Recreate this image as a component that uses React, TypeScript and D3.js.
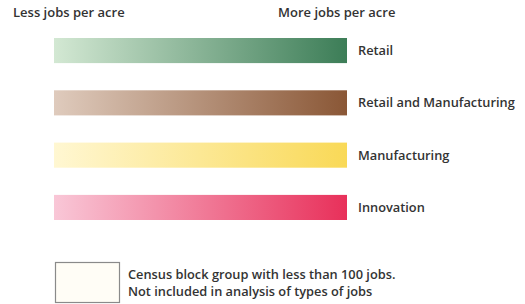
import { useEffect, useRef } from "react";
import * as d3 from "d3";

const categories = ["Retail", "Retail and Manufacturing", "Manufacturing", "Innovation"];
const lowColors = ["#d3e8d3", "#dfcbbd", "#fff7d2", "#f9c7d7"];
const highColors = ["#3c7d57", "#8a5736", "#f9d957", "#e8305a"];
const scaleEnds = ["Less jobs per acre", "More jobs per acre"];
const noteLines = [
  "Census block group with less than 100 jobs.",
  "Not included in analysis of types of jobs",
];

const W = 525;
const H = 304;

const App = () => {
  const ref = useRef<SVGSVGElement>(null);

  useEffect(() => {
    const svg = d3.select(ref.current);
    svg.selectAll("*").remove();

    const font = "'Open Sans', sans-serif";

    const x = d3.scaleLinear().domain([0, 1]).range([54, 347]);
    const y = d3
      .scaleBand()
      .domain(categories)
      .range([38, 220])
      .paddingInner(0.52)
      .paddingOuter(0);

    const defs = svg.append("defs");
    categories.forEach((c, i) => {
      const g = defs
        .append("linearGradient")
        .attr("id", "grad-" + i)
        .attr("x1", "0%")
        .attr("x2", "100%")
        .attr("y1", "0%")
        .attr("y2", "0%");
      g.append("stop").attr("offset", "0%").attr("stop-color", lowColors[i]);
      g.append("stop").attr("offset", "100%").attr("stop-color", highColors[i]);
    });

    svg
      .selectAll("rect.bar")
      .data(categories)
      .enter()
      .append("rect")
      .attr("class", "bar")
      .attr("x", x(0))
      .attr("y", (d) => y(d)!)
      .attr("width", x(1) - x(0))
      .attr("height", y.bandwidth())
      .attr("fill", (d, i) => "url(#grad-" + i + ")");

    svg
      .selectAll("text.cat")
      .data(categories)
      .enter()
      .append("text")
      .attr("class", "cat")
      .attr("x", x(1) + 11)
      .attr("y", (d) => y(d)! + y.bandwidth() / 2)
      .attr("dy", "0.35em")
      .attr("font-family", font)
      .attr("font-weight", 600)
      .attr("font-size", 12.8)
      .attr("fill", "#333")
      .text((d) => d);

    svg
      .selectAll("text.end")
      .data(scaleEnds)
      .enter()
      .append("text")
      .attr("class", "end")
      .attr("x", (d, i) => (i === 0 ? 13 : 278))
      .attr("y", 17)
      .attr("font-family", font)
      .attr("font-weight", 600)
      .attr("font-size", 13)
      .attr("fill", "#333")
      .text((d) => d);

    svg
      .append("rect")
      .attr("x", 55.5)
      .attr("y", 262.5)
      .attr("width", 64)
      .attr("height", 40)
      .attr("fill", "#fffdf6")
      .attr("stroke", "#8a8a8a")
      .attr("stroke-width", 1.2);

    svg
      .selectAll("text.note")
      .data(noteLines)
      .enter()
      .append("text")
      .attr("class", "note")
      .attr("x", 128)
      .attr("y", (d, i) => 279 + i * 17)
      .attr("font-family", font)
      .attr("font-weight", 600)
      .attr("font-size", 12.8)
      .attr("fill", "#333")
      .text((d) => d);
  }, []);

  return (
    <svg
      ref={ref}
      width={W}
      height={H}
      style={{ position: "absolute", left: 0, top: 0, background: "#fff" }}
    />
  );
};

export default App;
